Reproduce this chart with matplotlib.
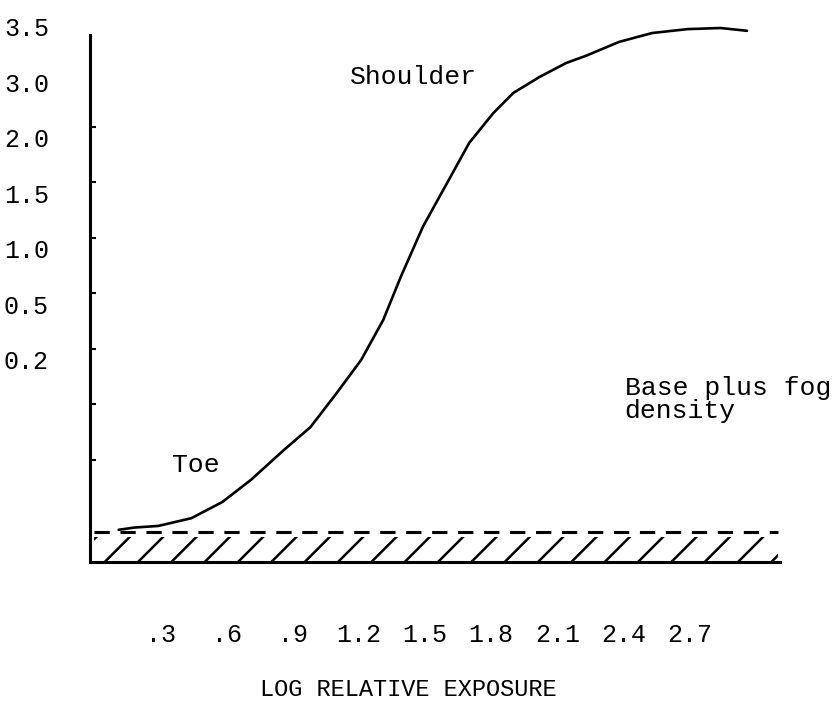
import numpy as np
import matplotlib
matplotlib.use('Agg')
import matplotlib.pyplot as plt

# Characteristic curve.
# x in log relative exposure, y in axis units (one unit = one label step)
log_exposure = [0.11, 0.18, 0.29, 0.44, 0.58, 0.71, 0.86, 0.98, 1.10, 1.21,
                1.31, 1.39, 1.49, 1.60, 1.70, 1.81, 1.90, 2.02, 2.14, 2.23,
                2.38, 2.53, 2.69, 2.84, 2.96]
density_pos = [0.58, 0.62, 0.65, 0.79, 1.08, 1.48, 2.02, 2.43, 3.05, 3.64,
               4.36, 5.14, 6.04, 6.83, 7.55, 8.09, 8.45, 8.74, 8.99, 9.12,
               9.37, 9.53, 9.60, 9.62, 9.57]

base_fog = 0.54        # dashed base + fog level
base_band = 0.45       # top of hatched band

x_ticks = [0.3, 0.6, 0.9, 1.2, 1.5, 1.8, 2.1, 2.4, 2.7]
x_labels = ['.3', '.6', '.9', '1.2', '1.5', '1.8', '2.1', '2.4', '2.7']
y_labels = ['0.2', '0.5', '1.0', '1.5', '2.0', '3.0', '3.5']

plt.rcParams['font.family'] = ['Liberation Mono', 'DejaVu Sans Mono']
plt.rcParams['hatch.linewidth'] = 1.8

fig = plt.figure(figsize=(8.39, 7.04), dpi=100)
ax = fig.add_axes([0.1073, 0.2017, 0.8224, 0.7727])

ax.set_xlim(-0.02, 3.11)
ax.set_ylim(0, 9.8)

# base plus fog band
ax.fill_between([0.0, 3.1], 0, base_band, facecolor='none', edgecolor='black',
                hatch='/', linewidth=0)
ax.plot([0.0, 3.1], [base_fog, base_fog], color='black', lw=2.2,
        dashes=(5, 3.5))

# the curve
ax.plot(log_exposure, density_pos, color='black', lw=1.9,
        solid_capstyle='round', solid_joinstyle='round')

# axes look
for s in ['top', 'right']:
    ax.spines[s].set_visible(False)
ax.spines['left'].set_bounds(0, 9.5)
ax.spines['left'].set_linewidth(2.2)
ax.spines['bottom'].set_linewidth(2.2)

y_ticks = np.arange(len(y_labels)) + 3.64
ax.set_yticks(y_ticks)
ax.set_yticklabels(y_labels, ha='left')
ax.set_yticks(y_ticks - 1.8, minor=True)
ax.tick_params(axis='y', which='major', length=0, pad=62, labelsize=18)
ax.tick_params(axis='y', which='minor', direction='in', length=4, width=1.5)

ax.set_xticks(x_ticks)
ax.set_xticklabels(x_labels)
ax.tick_params(axis='x', length=0, pad=44, labelsize=18)

ax.text(1.16, 8.74, 'Shoulder', fontsize=19, va='center', ha='left')
ax.text(0.353, 1.75, 'Toe', fontsize=19, va='center', ha='left')
ax.text(2.405, 2.92, 'Base plus fog\ndensity', fontsize=19, va='center',
        ha='left', linespacing=0.95)

fig.text(408 / 839, 1 - 690 / 704, 'LOG RELATIVE EXPOSURE', fontsize=17,
         ha='center', va='center')

fig.savefig('out.png', dpi=100)
